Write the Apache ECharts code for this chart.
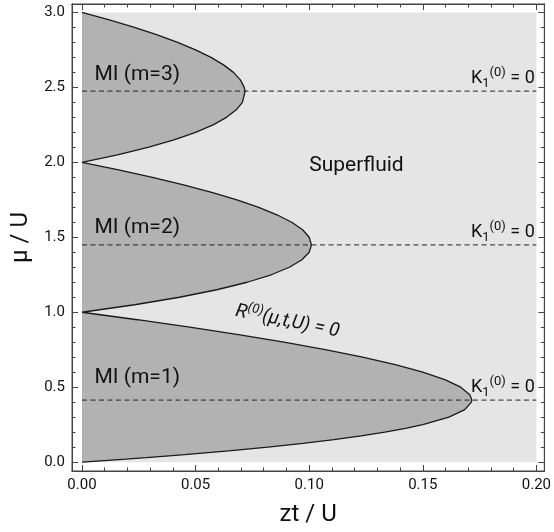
<!DOCTYPE html>
<html><head><meta charset="utf-8">
<script src="https://cdn.jsdelivr.net/npm/echarts@6/dist/echarts.min.js"></script>
<style>html,body{margin:0;padding:0;background:#fff}#c{width:554px;height:532px}</style>
</head><body><div id="c"></div>
<script>
// Mott lobe boundaries: chemical potential mu/U and hopping zt/U
const mu1 = [0,0.01,0.02,0.03,0.04,0.05,0.075,0.1,0.125,0.15,0.175,0.2,0.225,0.25,0.3,0.35,0.4,0.414,0.45,0.5,0.55,0.6,0.65,0.7,0.75,0.8,0.85,0.9,0.95,1.0];
const zt1 = [0,0.0098,0.0192,0.0283,0.0369,0.0452,0.0645,0.0818,0.0972,0.1109,0.1229,0.1333,0.1424,0.15,0.1615,0.1685,0.1714,0.1716,0.1707,0.1667,0.1597,0.15,0.1379,0.1235,0.1071,0.0889,0.0689,0.0474,0.0244,0];
const mu2 = [1.0,1.05,1.1,1.15,1.2,1.25,1.3,1.35,1.4,1.449,1.5,1.55,1.6,1.65,1.7,1.75,1.8,1.85,1.9,1.95,2.0];
const zt2 = [0,0.0232,0.0429,0.0593,0.0727,0.0833,0.0913,0.0968,0.1,0.101,0.1,0.0971,0.0923,0.0858,0.0778,0.0682,0.0571,0.0447,0.031,0.0161,0];
const mu3 = [2.0,2.05,2.1,2.15,2.2,2.25,2.3,2.35,2.4,2.475,2.5,2.55,2.6,2.65,2.7,2.75,2.8,2.85,2.9,2.95,3.0];
const zt3 = [0,0.0156,0.029,0.0405,0.05,0.0577,0.0636,0.0679,0.0706,0.0718,0.0714,0.0697,0.0667,0.0623,0.0568,0.05,0.0421,0.0331,0.0231,0.012,0];
// K1(0)=0 dashed lines (lobe tips)
const tipMu = [0.414, 1.449, 2.475];
// plotted region
const regionZt = [0, 0.2, 0.2, 0];
const regionMu = [0, 0, 3, 3];
// ticks
const xMajor = [0, 0.05, 0.1, 0.15, 0.2];
const xMinor = [0.01,0.02,0.03,0.04,0.06,0.07,0.08,0.09,0.11,0.12,0.13,0.14,0.16,0.17,0.18,0.19];
const yMajor = [0, 0.5, 1.0, 1.5, 2.0, 2.5, 3.0];
const yMinor = [0.1,0.2,0.3,0.4,0.6,0.7,0.8,0.9,1.1,1.2,1.3,1.4,1.6,1.7,1.8,1.9,2.1,2.2,2.3,2.4,2.6,2.7,2.8,2.9];
// text labels [zt, mu, text]
const lobeLabels = [[0.0055, 2.586, 'MI (m=3)'], [0.0055, 1.565, 'MI (m=2)'], [0.0055, 0.563, 'MI (m=1)']];
const phaseLabel = [0.1208, 1.974, 'Superfluid'];

const X_MIN = -0.0044, X_MAX = 0.2035, Y_MIN = -0.059, Y_MAX = 3.056;
const FRAME = '#444';
const FONT = 'Roboto';

function axisCommon(min, max, pos, vals, len, labelFmt) {
  return {
    type: 'value', position: pos, min: min, max: max, show: true,
    axisLine: { show: true, onZero: false, lineStyle: { color: FRAME, width: 1 } },
    axisTick: { show: true, inside: true, length: len, customValues: vals, lineStyle: { color: FRAME, width: 1 } },
    axisLabel: labelFmt ? { show: true, customValues: vals, formatter: labelFmt, color: '#111', fontFamily: FONT, fontSize: 15, margin: 7 } : { show: false },
    splitLine: { show: false }
  };
}
const xAxes = [
  Object.assign(axisCommon(X_MIN, X_MAX, 'bottom', xMajor, 6, v => v.toFixed(2)), {
    name: 'zt / U', nameLocation: 'middle', nameGap: 32,
    nameTextStyle: { fontFamily: FONT, fontSize: 24, color: '#111' }
  }),
  axisCommon(X_MIN, X_MAX, 'bottom', xMinor, 3.5, null),
  axisCommon(X_MIN, X_MAX, 'top', xMajor, 6, null),
  axisCommon(X_MIN, X_MAX, 'top', xMinor, 3.5, null)
];
const yAxes = [
  Object.assign(axisCommon(Y_MIN, Y_MAX, 'left', yMajor, 6, v => v.toFixed(1)), {
    name: 'μ / U', nameLocation: 'middle', nameGap: 35,
    nameTextStyle: { fontFamily: FONT, fontSize: 24, color: '#111' }
  }),
  axisCommon(Y_MIN, Y_MAX, 'left', yMinor, 3.5, null),
  axisCommon(Y_MIN, Y_MAX, 'right', yMajor, 6, null),
  axisCommon(Y_MIN, Y_MAX, 'right', yMinor, 3.5, null)
];

function polySeries(xs, ys, color, z) {
  return {
    type: 'custom', coordinateSystem: 'cartesian2d', xAxisIndex: 0, yAxisIndex: 0, silent: true, z: z,
    data: xs.map((x, i) => [x, ys[i]]),
    renderItem: function (params, api) {
      if (params.dataIndex !== 0) return null;
      const pts = xs.map((x, i) => api.coord([x, ys[i]]));
      return { type: 'polygon', shape: { points: pts }, style: { fill: color } };
    }
  };
}

const boundaryZt = zt1.concat(zt2.slice(1), zt3.slice(1));
const boundaryMu = mu1.concat(mu2.slice(1), mu3.slice(1));

const series = [
  polySeries(regionZt, regionMu, '#e5e5e5', 1),
  polySeries(zt1, mu1, '#b2b2b2', 2),
  polySeries(zt2, mu2, '#b2b2b2', 2),
  polySeries(zt3, mu3, '#b2b2b2', 2),
  {
    type: 'line', xAxisIndex: 0, yAxisIndex: 0, z: 4, silent: true, showSymbol: false, symbol: 'none',
    data: boundaryZt.map((x, i) => [x, boundaryMu[i]]),
    lineStyle: { color: '#1a1a1a', width: 1.3 }
  }
].concat(tipMu.map(m => ({
  type: 'line', xAxisIndex: 0, yAxisIndex: 0, z: 5, silent: true, showSymbol: false, symbol: 'none',
  data: [[0, m], [regionZt[1], m]],
  lineStyle: { color: '#222', width: 1, type: [5, 3.5] }
})));

const chart = echarts.init(document.getElementById('c'), null, { renderer: 'canvas' });
chart.setOption({
  animation: false,
  backgroundColor: '#fff',
  grid: { left: 72, right: 8, top: 4, bottom: 56, show: true, borderColor: FRAME, borderWidth: 1, backgroundColor: 'transparent' },
  xAxis: xAxes,
  yAxis: yAxes,
  series: series
});

function px(x, y) { return chart.convertToPixel({ xAxisIndex: 0, yAxisIndex: 0 }, [x, y]); }
const graphics = [];
lobeLabels.forEach(l => {
  const p = px(l[0], l[1]);
  graphics.push({ type: 'text', x: p[0], y: p[1], z: 10, style: { text: l[2], fontFamily: FONT, fontSize: 21, fill: '#111', align: 'left', verticalAlign: 'middle' } });
});
{
  const p = px(phaseLabel[0], phaseLabel[1]);
  graphics.push({ type: 'text', x: p[0], y: p[1], z: 10, style: { text: phaseLabel[2], fontFamily: FONT, fontSize: 21, fill: '#111', align: 'center', verticalAlign: 'middle' } });
}
tipMu.forEach(m => {
  const p = px(0.1993, m + 0.085);
  graphics.push({ type: 'text', x: p[0], y: p[1], z: 10, style: {
    text: '{k|K}{sub|1}{sup|(0)}{n| = 0}', align: 'right', verticalAlign: 'middle', fill: '#111',
    rich: {
      k: { fontFamily: FONT, fontSize: 18, lineHeight: 24, verticalAlign: 'middle', fill: '#111' },
      sub: { fontFamily: FONT, fontSize: 13, lineHeight: 12, verticalAlign: 'bottom', fill: '#111' },
      sup: { fontFamily: FONT, fontSize: 13, lineHeight: 12, verticalAlign: 'top', fill: '#111' },
      n: { fontFamily: FONT, fontSize: 18, lineHeight: 24, verticalAlign: 'middle', fill: '#111' }
    }
  } });
});
{
  const p = px(0.0904, 0.938);
  graphics.push({ type: 'text', x: p[0], y: p[1], rotation: -0.2, z: 10, style: {
    text: '{r|R}{sup|(0)}{n|(μ,t,U) = 0}', align: 'center', verticalAlign: 'middle', fill: '#111',
    rich: {
      r: { fontFamily: FONT, fontStyle: 'italic', fontSize: 19, lineHeight: 24, verticalAlign: 'middle', fill: '#111' },
      sup: { fontFamily: FONT, fontStyle: 'italic', fontSize: 13, lineHeight: 12, verticalAlign: 'top', fill: '#111' },
      n: { fontFamily: FONT, fontStyle: 'italic', fontSize: 19, lineHeight: 24, verticalAlign: 'middle', fill: '#111' }
    }
  } });
}
chart.setOption({ graphic: graphics });
</script></body></html>
